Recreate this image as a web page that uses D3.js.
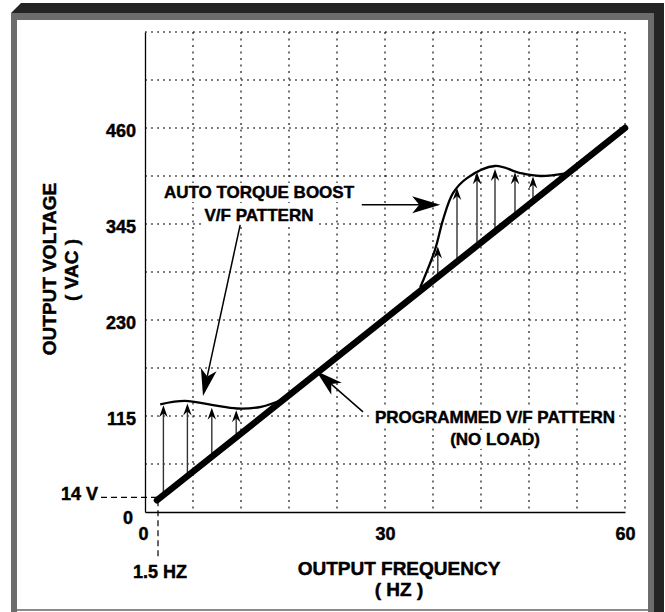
<!DOCTYPE html>
<html>
<head>
<meta charset="utf-8">
<script src="https://cdn.jsdelivr.net/npm/d3@7"></script>
<style>
  html, body { margin: 0; padding: 0; background: #fff; }
  svg { display: block; }
  text { font-family: "Liberation Sans", Arial, Helvetica, sans-serif; font-weight: bold; fill: #000; stroke: #000; stroke-width: 0.45px; }
</style>
</head>
<body>
<svg id="chart" width="665" height="612"></svg>
<script>
// ---- data (Hz, VAC) ----
const freqTicks = [0, 30, 60];
const voltTicks = [0, 115, 230, 345, 460];
const freqGrid = [6, 12, 18, 24, 30, 36, 42, 48, 54, 60];
const voltGrid = [57.5, 115, 172.5, 230, 287.5, 345, 402.5, 460, 517.5, 575];

// programmed (no load) V/F pattern: start point and base point
const programmedHz = [1.5, 60];
const programmedV = [14, 460];

// auto torque boost pattern, low-speed hump
const boostLowHz = [1.9, 5, 8.5, 11.5, 14.5, 17.5];
const boostLowV = [129, 133, 128, 124, 126, 136];
// auto torque boost pattern, mid-speed hump
const boostHighHz = [34.4, 36.25, 37.25, 38.5, 40.25, 43.75, 46.9, 49.4, 52.8];
const boostHighV = [269, 314, 350, 382, 400, 414.5, 406, 402.5, 406];

// boost arrows: frequency and top voltage
const liftLowHz = [2.3, 5.3, 8.35, 11.4];
const liftLowTop = [128, 130, 125, 122];
const liftHighHz = [36.6, 39, 41.5, 43.75, 46.25, 48.5];
const liftHighTop = [318, 388, 407, 411, 407, 402];

// callout pointers: [fromHz, fromV, toHz, toV]
const pointerBoostLow = [11.9, 344, 7.25, 139];
const pointerBoostHigh = [27.1, 368, 36.9, 368];
const pointerProgrammed = [27.25, 120, 21.4, 169];

// ---- layout ----
const plot = { left: 145, top: 32, right: 625, bottom: 512 };

const svg = d3.select("#chart");

// frame
svg.append("path")
  .attr("d", "M21,3 H664 V612 H654 V13 H11 Z")
  .attr("fill", "#242424");
svg.append("path")
  .attr("d", "M11,13 H654 V612 H648 V20 H17 V612 H11 Z")
  .attr("fill", "#6c6c6c");
svg.append("rect").attr("x", 17).attr("y", 20).attr("width", 631).attr("height", 589).attr("fill", "#fff");
svg.append("rect").attr("x", 17).attr("y", 609).attr("width", 631).attr("height", 2).attr("fill", "#8a8a8a");

const x = d3.scaleLinear().domain([0, 60]).range([plot.left, plot.right]);
const y = d3.scaleLinear().domain([0, 575]).range([plot.bottom, plot.top]);

// grid
const grid = svg.append("g").attr("stroke", "#000").attr("stroke-width", 1.1);
grid.selectAll("line.v").data(freqGrid).join("line")
  .attr("class", "v")
  .attr("x1", d => x(d)).attr("x2", d => x(d))
  .attr("y1", y(575)).attr("y2", y(0))
  .attr("stroke-dasharray", "2,4.5");
grid.selectAll("line.h").data(voltGrid).join("line")
  .attr("class", "h")
  .attr("y1", d => y(d)).attr("y2", d => y(d))
  .attr("x1", x(0)).attr("x2", x(60))
  .attr("stroke-dasharray", "2,4");

// axes
const xAxis = svg.append("g")
  .attr("transform", `translate(0,${plot.bottom})`)
  .call(d3.axisBottom(x).tickValues(freqTicks).tickSize(0).tickSizeOuter(0).tickPadding(15).tickFormat(d3.format("d")));
const yAxis = svg.append("g")
  .attr("transform", `translate(${plot.left},0)`)
  .call(d3.axisLeft(y).tickValues(voltTicks).tickSize(0).tickSizeOuter(0).tickPadding(9).tickFormat(d3.format("d")));
[xAxis, yAxis].forEach(a => {
  a.attr("font-family", null).attr("font-size", 18);
  a.select(".domain").attr("stroke", "#000").attr("stroke-width", 1.3);
  a.selectAll("text").attr("font-size", 18);
});
yAxis.selectAll(".tick text").attr("dy", "0.48em");
yAxis.selectAll(".tick").filter(d => d === 0).select("text").attr("x", -12).attr("dy", "0.62em");
xAxis.selectAll(".tick").filter(d => d === 0).select("text").attr("x", -2);

// 14 V / 1.5 Hz guides
const guide = svg.append("g").attr("stroke", "#000").attr("stroke-width", 1.2).attr("stroke-dasharray", "6,4");
guide.append("line")
  .attr("x1", 101).attr("x2", x(programmedHz[0]))
  .attr("y1", y(programmedV[0]) - 3).attr("y2", y(programmedV[0]) - 3);
guide.append("line")
  .attr("x1", x(programmedHz[0]) + 1).attr("x2", x(programmedHz[0]) + 1)
  .attr("y1", y(programmedV[0])).attr("y2", 557);
svg.append("text").attr("x", 98).attr("y", 500).attr("text-anchor", "end").attr("font-size", 18).text("14 V");
svg.append("text").attr("x", 160).attr("y", 578).attr("text-anchor", "middle").attr("font-size", 18).text("1.5 HZ");

// axis titles
svg.append("text").attr("x", 399).attr("y", 575).attr("text-anchor", "middle").attr("font-size", 19).text("OUTPUT FREQUENCY");
svg.append("text").attr("x", 399).attr("y", 596).attr("text-anchor", "middle").attr("font-size", 19).text("( HZ )");
svg.append("text").attr("transform", "translate(56,269) rotate(-90)").attr("text-anchor", "middle").attr("font-size", 19).text("OUTPUT VOLTAGE");
svg.append("text").attr("transform", "translate(78,270) rotate(-90)").attr("text-anchor", "middle").attr("font-size", 19).text("( VAC )");

// programmed line value at a given frequency
const progAt = d3.scaleLinear().domain(programmedHz).range(programmedV);

// arrowhead path pointing along +x with tip at origin
function head(g, tx, ty, angle, len, wid, notch) {
  g.append("path")
    .attr("d", `M0,0 L${-len},${-wid / 2} L${-len + notch},0 L${-len},${wid / 2} Z`)
    .attr("transform", `translate(${tx},${ty}) rotate(${angle})`)
    .attr("fill", "#000");
}

// boost arrows
const lifts = svg.append("g");
function drawLifts(hzs, tops) {
  hzs.forEach((hz, i) => {
    const px = x(hz), y0 = y(progAt(hz)), y1 = y(tops[i]);
    lifts.append("line").attr("x1", px).attr("x2", px).attr("y1", y0).attr("y2", y1 + 6)
      .attr("stroke", "#333").attr("stroke-width", 1.4);
    head(lifts, px, y1, -90, 12, 8.5, 4);
  });
}
drawLifts(liftLowHz, liftLowTop);
drawLifts(liftHighHz, liftHighTop);

// boost curves
const curve = d3.line().x(d => x(d[0])).y(d => y(d[1])).curve(d3.curveCatmullRom.alpha(0.5));
svg.append("path").datum(d3.zip(boostLowHz, boostLowV)).attr("d", curve)
  .attr("fill", "none").attr("stroke", "#000").attr("stroke-width", 2.3);
svg.append("path").datum(d3.zip(boostHighHz, boostHighV)).attr("d", curve)
  .attr("fill", "none").attr("stroke", "#000").attr("stroke-width", 2.3);

// programmed V/F line
svg.append("line")
  .attr("x1", x(programmedHz[0])).attr("y1", y(programmedV[0]))
  .attr("x2", x(programmedHz[1])).attr("y2", y(programmedV[1]))
  .attr("stroke", "#000").attr("stroke-width", 6.5).attr("stroke-linecap", "round");

// callout labels with white backing
function label(lines, cx, baselines, size) {
  const g = svg.append("g");
  const t = lines.map((s, i) => g.append("text").attr("x", cx).attr("y", baselines[i])
    .attr("text-anchor", "middle").attr("font-size", size).text(s));
  t.forEach(node => {
    const b = node.node().getBBox();
    g.insert("rect", "text").attr("x", b.x - 2).attr("y", b.y).attr("width", b.width + 4).attr("height", b.height)
      .attr("fill", "#fff");
  });
}
label(["AUTO TORQUE BOOST", "V/F PATTERN"], 259, [198, 221], 17);
label(["PROGRAMMED V/F PATTERN", "(NO LOAD)"], 495, [423, 445], 17);

// callout pointers
function pointer(p, len, wid, notch) {
  const x0 = x(p[0]), y0 = y(p[1]), x1 = x(p[2]), y1 = y(p[3]);
  const ang = Math.atan2(y1 - y0, x1 - x0);
  const g = svg.append("g");
  g.append("line").attr("x1", x0).attr("y1", y0)
    .attr("x2", x1 - Math.cos(ang) * (len - notch)).attr("y2", y1 - Math.sin(ang) * (len - notch))
    .attr("stroke", "#000").attr("stroke-width", 1.5);
  head(g, x1, y1, ang * 180 / Math.PI, len, wid, notch);
}
pointer(pointerBoostLow, 27, 16, 7);
pointer(pointerBoostHigh, 28, 17, 7);
pointer(pointerProgrammed, 27, 16, 7);
</script>
</body>
</html>
